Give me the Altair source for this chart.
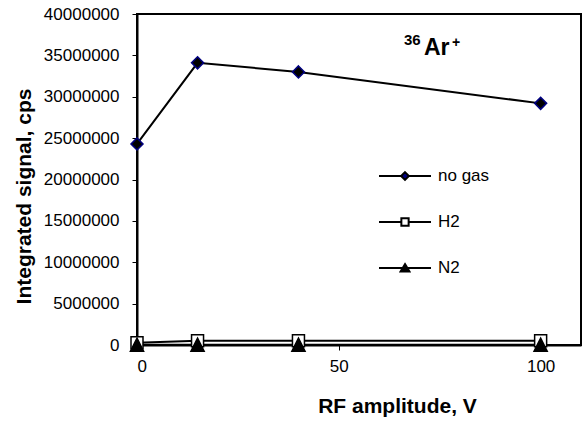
import altair as alt
import pandas as pd

# Measured integrated signal (cps) versus RF amplitude (V)
rf_amplitude = [0, 15, 40, 100]
no_gas = [24300000, 34100000, 33000000, 29200000]
h2 = [280000, 520000, 520000, 520000]
n2 = [30000, 30000, 30000, 30000]
series_names = ["no gas", "H2", "N2"]

y_ticks = [0, 5000000, 10000000, 15000000, 20000000, 25000000, 30000000, 35000000, 40000000]
x_ticks = [0, 50, 100]

FONT = "Liberation Sans"

rows = []
for name, vals in zip(series_names, [no_gas, h2, n2]):
    for xv, yv in zip(rf_amplitude, vals):
        rows.append({"rf": xv, "signal": yv, "series": name})
df = pd.DataFrame(rows)

# marker outlines drawn as unit-box paths
marker_paths = [
    "M0,-1L1,0L0,1L-1,0Z",
    "M-1,-1H1V1H-1Z",
    "M0,-1.1L1.1,1.1L-1.1,1.1Z",
]
# legend symbols: a line segment with the marker in the middle
legend_paths = [
    "M-1,0H-0.15M0.15,0H1M0,-0.15L0.15,0L0,0.15L-0.15,0Z",
    "M-1,0H-0.14M0.14,0H1M-0.14,-0.14H0.14V0.14H-0.14Z",
    "M-1,0H1M0,-0.15L0.17,0.13L-0.17,0.13Z",
]

x_enc = alt.X(
    "rf:Q",
    scale=alt.Scale(domain=[0, 110], nice=False, zero=False),
    axis=alt.Axis(
        values=x_ticks,
        title="RF amplitude, V",
        titleX=260,
        titleY=61,
        titleAlign="center",
        titleBaseline="middle",
        labelPadding=8,
    ),
)
y_enc = alt.Y(
    "signal:Q",
    scale=alt.Scale(domain=[0, 40000000], nice=False),
    axis=alt.Axis(
        values=y_ticks,
        format="d",
        title="Integrated signal, cps",
        titleX=-113,
        titleY=182,
        titleAngle=-90,
        titleAlign="center",
        titleBaseline="middle",
        labelPadding=13,
    ),
)

base = alt.Chart(df)

lines = base.mark_line(color="black", strokeWidth=2).encode(
    x=x_enc, y=y_enc, detail="series:N"
)

points = base.mark_point(filled=True, opacity=1, size=144, strokeWidth=1.5).encode(
    x=x_enc,
    y=y_enc,
    shape=alt.Shape("series:N", scale=alt.Scale(domain=series_names, range=marker_paths), legend=None),
    fill=alt.Fill("series:N", scale=alt.Scale(domain=series_names, range=["black", "white", "black"]), legend=None),
    stroke=alt.Stroke("series:N", scale=alt.Scale(domain=series_names, range=["#000080", "black", "black"]), legend=None),
)

legend_cfg = alt.Legend(
    title=None,
    orient="none",
    legendX=241,
    legendY=135,
    padding=0,
    rowPadding=11,
    labelOffset=6,
    labelFontSize=17,
    labelFont=FONT,
    labelColor="black",
    symbolSize=2704,
    symbolStrokeWidth=2,
)

legend_layer = base.transform_filter("datum.rf < 0").mark_point(
    filled=True, opacity=1, size=2704, strokeWidth=2
).encode(
    x=x_enc,
    y=y_enc,
    shape=alt.Shape("series:N", scale=alt.Scale(domain=series_names, range=legend_paths), legend=legend_cfg),
    fill=alt.Fill("series:N", scale=alt.Scale(domain=series_names, range=["#000080", "white", "black"]), legend=legend_cfg),
    stroke=alt.Stroke("series:N", scale=alt.Scale(domain=series_names, range=["black", "black", "black"]), legend=legend_cfg),
)

# ion label: superscript mass number, element, superscript charge
mass = alt.Chart(pd.DataFrame({"t": ["36"]})).mark_text(
    font=FONT, fontSize=15, fontWeight="bold", align="left", baseline="alphabetic", color="black"
).encode(text="t:N", x=alt.value(267), y=alt.value(31))
element = alt.Chart(pd.DataFrame({"t": ["Ar"]})).mark_text(
    font=FONT, fontSize=23, fontWeight="bold", align="left", baseline="alphabetic", color="black"
).encode(text="t:N", x=alt.value(287), y=alt.value(41))
charge = alt.Chart(pd.DataFrame({"t": ["+"]})).mark_text(
    font=FONT, fontSize=14, fontWeight="bold", align="left", baseline="alphabetic", color="black"
).encode(text="t:N", x=alt.value(315), y=alt.value(33))

chart = (
    alt.layer(lines, points, legend_layer, mass, element, charge)
    .resolve_scale(shape="independent", fill="independent", stroke="independent")
    .resolve_legend(shape="independent", fill="independent", stroke="independent")
    .properties(
        width=444,
        height=331,
        autosize=alt.AutoSizeParams(type="none"),
        padding={"left": 137, "top": 14, "right": 5, "bottom": 78},
        background="white",
    )
    .configure_view(stroke="black", strokeWidth=2)
    .configure_axis(
        grid=False,
        domainColor="black",
        domainWidth=2,
        tickColor="black",
        tickWidth=1,
        tickSize=5,
        labelFont=FONT,
        labelFontSize=17,
        labelColor="black",
        titleFont=FONT,
        titleFontSize=21,
        titleFontWeight="bold",
        titleColor="black",
    )
)

chart.save("out.html", embed_options={"renderer": "svg", "actions": False})
